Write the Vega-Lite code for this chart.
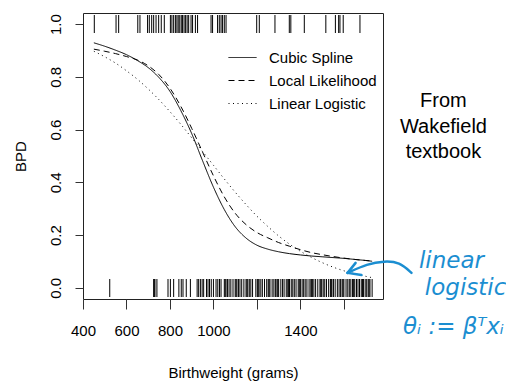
{
  "$schema": "https://vega.github.io/schema/vega-lite/v6.json",
  "width": 300,
  "height": 286,
  "autosize": "none",
  "padding": {"left": 83, "top": 13, "right": 123, "bottom": 84},
  "background": "white",
  "config": {
    "font": "Liberation Sans",
    "view": {"stroke": "#222", "strokeWidth": 1},
    "axis": {"grid": false, "domain": false, "labelFlush": false, "tickColor": "#333", "labelColor": "black", "titleColor": "black", "labelFont": "Liberation Sans", "titleFont": "Liberation Sans", "labelFontSize": 15, "titleFontSize": 15, "titleFontWeight": "normal"}
  },
  "datasets": {
    "curves": [
      {"model": "Cubic Spline", "bw": 450, "p": 0.929}, {"model": "Cubic Spline", "bw": 500, "p": 0.916}, {"model": "Cubic Spline", "bw": 550, "p": 0.901}, {"model": "Cubic Spline", "bw": 600, "p": 0.884}, {"model": "Cubic Spline", "bw": 650, "p": 0.862}, {"model": "Cubic Spline", "bw": 700, "p": 0.835}, {"model": "Cubic Spline", "bw": 750, "p": 0.797}, {"model": "Cubic Spline", "bw": 800, "p": 0.745}, {"model": "Cubic Spline", "bw": 850, "p": 0.672}, {"model": "Cubic Spline", "bw": 900, "p": 0.585}, {"model": "Cubic Spline", "bw": 950, "p": 0.482}, {"model": "Cubic Spline", "bw": 1000, "p": 0.382}, {"model": "Cubic Spline", "bw": 1050, "p": 0.297}, {"model": "Cubic Spline", "bw": 1100, "p": 0.232}, {"model": "Cubic Spline", "bw": 1150, "p": 0.189}, {"model": "Cubic Spline", "bw": 1200, "p": 0.162}, {"model": "Cubic Spline", "bw": 1250, "p": 0.147}, {"model": "Cubic Spline", "bw": 1300, "p": 0.137}, {"model": "Cubic Spline", "bw": 1350, "p": 0.130}, {"model": "Cubic Spline", "bw": 1400, "p": 0.125}, {"model": "Cubic Spline", "bw": 1450, "p": 0.121}, {"model": "Cubic Spline", "bw": 1500, "p": 0.118}, {"model": "Cubic Spline", "bw": 1550, "p": 0.115}, {"model": "Cubic Spline", "bw": 1600, "p": 0.112}, {"model": "Cubic Spline", "bw": 1650, "p": 0.108}, {"model": "Cubic Spline", "bw": 1700, "p": 0.104}, {"model": "Cubic Spline", "bw": 1730, "p": 0.101},
      {"model": "Local Likelihood", "bw": 450, "p": 0.905}, {"model": "Local Likelihood", "bw": 500, "p": 0.897}, {"model": "Local Likelihood", "bw": 550, "p": 0.888}, {"model": "Local Likelihood", "bw": 600, "p": 0.877}, {"model": "Local Likelihood", "bw": 650, "p": 0.864}, {"model": "Local Likelihood", "bw": 700, "p": 0.842}, {"model": "Local Likelihood", "bw": 750, "p": 0.808}, {"model": "Local Likelihood", "bw": 800, "p": 0.757}, {"model": "Local Likelihood", "bw": 850, "p": 0.688}, {"model": "Local Likelihood", "bw": 900, "p": 0.605}, {"model": "Local Likelihood", "bw": 950, "p": 0.515}, {"model": "Local Likelihood", "bw": 1000, "p": 0.425}, {"model": "Local Likelihood", "bw": 1050, "p": 0.345}, {"model": "Local Likelihood", "bw": 1100, "p": 0.283}, {"model": "Local Likelihood", "bw": 1150, "p": 0.240}, {"model": "Local Likelihood", "bw": 1200, "p": 0.210}, {"model": "Local Likelihood", "bw": 1250, "p": 0.190}, {"model": "Local Likelihood", "bw": 1300, "p": 0.172}, {"model": "Local Likelihood", "bw": 1350, "p": 0.158}, {"model": "Local Likelihood", "bw": 1400, "p": 0.145}, {"model": "Local Likelihood", "bw": 1450, "p": 0.134}, {"model": "Local Likelihood", "bw": 1500, "p": 0.126}, {"model": "Local Likelihood", "bw": 1550, "p": 0.119}, {"model": "Local Likelihood", "bw": 1600, "p": 0.113}, {"model": "Local Likelihood", "bw": 1650, "p": 0.108}, {"model": "Local Likelihood", "bw": 1700, "p": 0.104}, {"model": "Local Likelihood", "bw": 1730, "p": 0.102},
      {"model": "Linear Logistic", "bw": 450, "p": 0.897}, {"model": "Linear Logistic", "bw": 500, "p": 0.876}, {"model": "Linear Logistic", "bw": 550, "p": 0.852}, {"model": "Linear Logistic", "bw": 600, "p": 0.823}, {"model": "Linear Logistic", "bw": 650, "p": 0.791}, {"model": "Linear Logistic", "bw": 700, "p": 0.754}, {"model": "Linear Logistic", "bw": 750, "p": 0.713}, {"model": "Linear Logistic", "bw": 800, "p": 0.668}, {"model": "Linear Logistic", "bw": 850, "p": 0.620}, {"model": "Linear Logistic", "bw": 900, "p": 0.569}, {"model": "Linear Logistic", "bw": 950, "p": 0.517}, {"model": "Linear Logistic", "bw": 1000, "p": 0.465}, {"model": "Linear Logistic", "bw": 1050, "p": 0.413}, {"model": "Linear Logistic", "bw": 1100, "p": 0.363}, {"model": "Linear Logistic", "bw": 1150, "p": 0.316}, {"model": "Linear Logistic", "bw": 1200, "p": 0.272}, {"model": "Linear Logistic", "bw": 1250, "p": 0.233}, {"model": "Linear Logistic", "bw": 1300, "p": 0.197}, {"model": "Linear Logistic", "bw": 1350, "p": 0.166}, {"model": "Linear Logistic", "bw": 1400, "p": 0.139}, {"model": "Linear Logistic", "bw": 1450, "p": 0.116}, {"model": "Linear Logistic", "bw": 1500, "p": 0.096}, {"model": "Linear Logistic", "bw": 1550, "p": 0.079}, {"model": "Linear Logistic", "bw": 1600, "p": 0.065}, {"model": "Linear Logistic", "bw": 1650, "p": 0.054}, {"model": "Linear Logistic", "bw": 1700, "p": 0.044}, {"model": "Linear Logistic", "bw": 1730, "p": 0.039}
    ],
    "rug": [
      {"bw": 452, "bpd": 1}, {"bw": 552, "bpd": 1}, {"bw": 564, "bpd": 1}, {"bw": 652, "bpd": 1}, {"bw": 662, "bpd": 1}, {"bw": 697, "bpd": 1}, {"bw": 705, "bpd": 1}, {"bw": 716, "bpd": 1}, {"bw": 725, "bpd": 1}, {"bw": 736, "bpd": 1}, {"bw": 748, "bpd": 1}, {"bw": 760, "bpd": 1}, {"bw": 774, "bpd": 1}, {"bw": 802, "bpd": 1}, {"bw": 809, "bpd": 1}, {"bw": 817, "bpd": 1}, {"bw": 825, "bpd": 1}, {"bw": 832, "bpd": 1}, {"bw": 838, "bpd": 1}, {"bw": 845, "bpd": 1}, {"bw": 852, "bpd": 1}, {"bw": 858, "bpd": 1}, {"bw": 865, "bpd": 1}, {"bw": 872, "bpd": 1}, {"bw": 879, "bpd": 1}, {"bw": 886, "bpd": 1}, {"bw": 897, "bpd": 1}, {"bw": 904, "bpd": 1}, {"bw": 917, "bpd": 1}, {"bw": 927, "bpd": 1}, {"bw": 989, "bpd": 1}, {"bw": 996, "bpd": 1}, {"bw": 1019, "bpd": 1}, {"bw": 1027, "bpd": 1}, {"bw": 1035, "bpd": 1}, {"bw": 1042, "bpd": 1}, {"bw": 1050, "bpd": 1}, {"bw": 1058, "bpd": 1}, {"bw": 1199, "bpd": 1}, {"bw": 1211, "bpd": 1}, {"bw": 1283, "bpd": 1}, {"bw": 1349, "bpd": 1}, {"bw": 1356, "bpd": 1}, {"bw": 1418, "bpd": 1}, {"bw": 1517, "bpd": 1}, {"bw": 1561, "bpd": 1}, {"bw": 1576, "bpd": 1}, {"bw": 1582, "bpd": 1}, {"bw": 1597, "bpd": 1}, {"bw": 1674, "bpd": 1},
      {"bw": 523, "bpd": 0}, {"bw": 725, "bpd": 0}, {"bw": 728, "bpd": 0}, {"bw": 731, "bpd": 0}, {"bw": 740, "bpd": 0}, {"bw": 791, "bpd": 0}, {"bw": 802, "bpd": 0}, {"bw": 817, "bpd": 0}, {"bw": 841, "bpd": 0}, {"bw": 852, "bpd": 0}, {"bw": 860, "bpd": 0}, {"bw": 875, "bpd": 0}, {"bw": 894, "bpd": 0},
      {"bw": 925, "bpd": 0}, {"bw": 932, "bpd": 0}, {"bw": 940, "bpd": 0}, {"bw": 948, "bpd": 0}, {"bw": 955, "bpd": 0}, {"bw": 968, "bpd": 0}, {"bw": 975, "bpd": 0}, {"bw": 982, "bpd": 0}, {"bw": 990, "bpd": 0}, {"bw": 1000, "bpd": 0}, {"bw": 1012, "bpd": 0}, {"bw": 1020, "bpd": 0}, {"bw": 1028, "bpd": 0}, {"bw": 1035, "bpd": 0}, {"bw": 1050, "bpd": 0}, {"bw": 1054, "bpd": 0}, {"bw": 1058, "bpd": 0}, {"bw": 1065, "bpd": 0}, {"bw": 1072, "bpd": 0}, {"bw": 1080, "bpd": 0}, {"bw": 1090, "bpd": 0}, {"bw": 1100, "bpd": 0}, {"bw": 1104, "bpd": 0}, {"bw": 1108, "bpd": 0}, {"bw": 1115, "bpd": 0}, {"bw": 1122, "bpd": 0}, {"bw": 1130, "bpd": 0}, {"bw": 1140, "bpd": 0}, {"bw": 1150, "bpd": 0}, {"bw": 1154, "bpd": 0}, {"bw": 1158, "bpd": 0}, {"bw": 1165, "bpd": 0}, {"bw": 1172, "bpd": 0}, {"bw": 1180, "bpd": 0}, {"bw": 1195, "bpd": 0}, {"bw": 1202, "bpd": 0}, {"bw": 1206, "bpd": 0}, {"bw": 1210, "bpd": 0}, {"bw": 1218, "bpd": 0}, {"bw": 1225, "bpd": 0}, {"bw": 1235, "bpd": 0}, {"bw": 1245, "bpd": 0}, {"bw": 1252, "bpd": 0}, {"bw": 1256, "bpd": 0}, {"bw": 1260, "bpd": 0}, {"bw": 1270, "bpd": 0}, {"bw": 1278, "bpd": 0}, {"bw": 1285, "bpd": 0}, {"bw": 1292, "bpd": 0}, {"bw": 1296, "bpd": 0}, {"bw": 1300, "bpd": 0}, {"bw": 1310, "bpd": 0}, {"bw": 1318, "bpd": 0}, {"bw": 1325, "bpd": 0}, {"bw": 1335, "bpd": 0}, {"bw": 1342, "bpd": 0}, {"bw": 1346, "bpd": 0}, {"bw": 1350, "bpd": 0}, {"bw": 1358, "bpd": 0}, {"bw": 1365, "bpd": 0}, {"bw": 1372, "bpd": 0}, {"bw": 1380, "bpd": 0}, {"bw": 1390, "bpd": 0}, {"bw": 1395, "bpd": 0}, {"bw": 1400, "bpd": 0}, {"bw": 1408, "bpd": 0}, {"bw": 1415, "bpd": 0}, {"bw": 1422, "bpd": 0}, {"bw": 1430, "bpd": 0}, {"bw": 1440, "bpd": 0}, {"bw": 1448, "bpd": 0}, {"bw": 1452, "bpd": 0}, {"bw": 1455, "bpd": 0}, {"bw": 1462, "bpd": 0}, {"bw": 1470, "bpd": 0}, {"bw": 1480, "bpd": 0}, {"bw": 1490, "bpd": 0}, {"bw": 1494, "bpd": 0}, {"bw": 1498, "bpd": 0}, {"bw": 1505, "bpd": 0}, {"bw": 1512, "bpd": 0}, {"bw": 1520, "bpd": 0}, {"bw": 1530, "bpd": 0}, {"bw": 1538, "bpd": 0}, {"bw": 1542, "bpd": 0}, {"bw": 1545, "bpd": 0}, {"bw": 1552, "bpd": 0}, {"bw": 1560, "bpd": 0}, {"bw": 1570, "bpd": 0}, {"bw": 1578, "bpd": 0}, {"bw": 1585, "bpd": 0}, {"bw": 1592, "bpd": 0}, {"bw": 1596, "bpd": 0}, {"bw": 1600, "bpd": 0}, {"bw": 1610, "bpd": 0}, {"bw": 1618, "bpd": 0}, {"bw": 1625, "bpd": 0}, {"bw": 1632, "bpd": 0}, {"bw": 1640, "bpd": 0}, {"bw": 1645, "bpd": 0}, {"bw": 1650, "bpd": 0}, {"bw": 1658, "bpd": 0}, {"bw": 1665, "bpd": 0}, {"bw": 1672, "bpd": 0}, {"bw": 1680, "bpd": 0}, {"bw": 1686, "bpd": 0}, {"bw": 1690, "bpd": 0}, {"bw": 1698, "bpd": 0}, {"bw": 1705, "bpd": 0}, {"bw": 1712, "bpd": 0}, {"bw": 1716, "bpd": 0}, {"bw": 1720, "bpd": 0}, {"bw": 1730, "bpd": 0}
    ],
    "arrow": [
      {"seg": "a", "ord": 1, "bw": 1911, "p": 0.057}, {"seg": "a", "ord": 2, "bw": 1856, "p": 0.098}, {"seg": "a", "ord": 3, "bw": 1786, "p": 0.102}, {"seg": "a", "ord": 4, "bw": 1708, "p": 0.091}, {"seg": "a", "ord": 5, "bw": 1617, "p": 0.057},
      {"seg": "b", "ord": 1, "bw": 1617, "p": 0.057}, {"seg": "b", "ord": 2, "bw": 1654, "p": 0.095},
      {"seg": "c", "ord": 1, "bw": 1617, "p": 0.057}, {"seg": "c", "ord": 2, "bw": 1681, "p": 0.049}
    ],
    "notes": [
      {"label": "linear", "bw": 2095, "p": 0.102},
      {"label": "logistic", "bw": 2160, "p": 0.0},
      {"label": "θᵢ := βᵀxᵢ", "bw": 2104, "p": -0.148}
    ],
    "source": [
      {"label": "From\nWakefield\ntextbook", "bw": 2058, "p": 0.708}
    ]
  },
  "layer": [
    {
      "data": {"name": "curves"},
      "mark": {"type": "line", "color": "black", "strokeWidth": 1, "interpolate": "monotone"},
      "encoding": {
        "x": {"field": "bw", "type": "quantitative", "scale": {"domain": [400, 1780], "nice": false, "zero": false},
          "axis": {"values": [400, 600, 800, 1000, 1200, 1400, 1600], "format": "d", "labelExpr": "datum.value == 1200 || datum.value == 1600 ? '' : datum.label", "tickSize": 10, "labelPadding": 14, "title": "Birthweight (grams)", "titleY": 78, "titleBaseline": "alphabetic"}},
        "y": {"field": "p", "type": "quantitative", "scale": {"domain": [-0.042, 1.042], "nice": false, "zero": false},
          "axis": {"values": [0, 0.2, 0.4, 0.6, 0.8, 1.0], "format": ".1f", "tickSize": 8, "labelAngle": -90, "labelAlign": "center", "labelBaseline": "bottom", "labelPadding": 12, "title": "BPD", "titleAngle": -90, "titleX": -63, "titleY": 143, "titleAlign": "center", "titleBaseline": "middle"}},
        "strokeDash": {"field": "model", "type": "nominal",
          "scale": {"domain": ["Cubic Spline", "Local Likelihood", "Linear Logistic"], "range": [[1, 0], [6, 4], [1, 3.5]]},
          "legend": {"title": null, "orient": "none", "legendX": 145, "legendY": 30, "padding": 0, "symbolType": "stroke", "symbolSize": 784, "symbolStrokeWidth": 1, "symbolStrokeColor": "black", "labelFontSize": 15, "labelFont": "Liberation Sans", "labelColor": "black", "labelOffset": 12, "rowPadding": -2}}
      }
    },
    {
      "data": {"name": "rug"},
      "mark": {"type": "tick", "orient": "vertical", "color": "black", "size": 18, "thickness": 1, "opacity": 1},
      "encoding": {
        "x": {"field": "bw", "type": "quantitative"},
        "y": {"field": "bpd", "type": "quantitative"}
      }
    },
    {
      "data": {"name": "source"},
      "mark": {"type": "text", "lineBreak": "\n", "fontSize": 20, "lineHeight": 25.5, "align": "center", "baseline": "middle", "color": "black", "font": "Liberation Sans"},
      "encoding": {
        "x": {"field": "bw", "type": "quantitative"},
        "y": {"field": "p", "type": "quantitative"},
        "text": {"field": "label"}
      }
    },
    {
      "data": {"name": "arrow"},
      "mark": {"type": "line", "color": "#1b8ed1", "strokeWidth": 2.5, "interpolate": "basis", "strokeCap": "round"},
      "encoding": {
        "x": {"field": "bw", "type": "quantitative"},
        "y": {"field": "p", "type": "quantitative"},
        "detail": {"field": "seg"},
        "order": {"field": "ord"}
      }
    },
    {
      "data": {"name": "notes"},
      "mark": {"type": "text", "fontSize": 23, "align": "center", "baseline": "middle", "color": "#1b8ed1", "font": "DejaVu Sans", "fontStyle": "italic"},
      "encoding": {
        "x": {"field": "bw", "type": "quantitative"},
        "y": {"field": "p", "type": "quantitative"},
        "text": {"field": "label"}
      }
    }
  ]
}
